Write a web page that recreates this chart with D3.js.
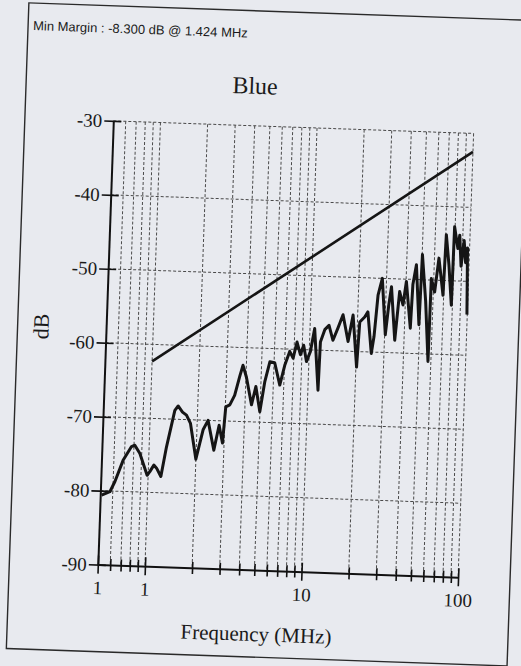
<!DOCTYPE html>
<html>

<head>
    <meta charset="utf-8">
    <title>Blue</title>
    <script type="text/javascript" src="https://cdn.jsdelivr.net/npm/d3@7/dist/d3.min.js"></script>
    <style>
        body { margin: 0; background: #e8eaef; }
    </style>
</head>

<body>
    <script type="text/javascript">
    var freqMHz = [0.51, 0.575, 0.616, 0.687, 0.772, 0.81, 0.876, 0.985, 1.023, 1.082,
        1.128, 1.206, 1.29, 1.432, 1.50, 1.604, 1.703, 1.814, 1.999, 2.19,
        2.345, 2.59, 2.765, 2.93, 3.02, 3.20, 3.42, 3.66, 3.81, 4.03,
        4.40, 4.65, 4.99, 5.29, 5.64, 6.06, 6.60, 7.03, 7.51, 7.92,
        8.32, 8.80, 9.19, 9.65, 10.18, 10.71, 11.6, 11.73, 12.43, 13.2,
        14.09, 15.08, 16.13, 17.6, 18.7, 20.2, 20.7, 22.2, 23.2, 24.9,
        25.7, 26.7, 28.2, 30.3, 31.4, 32.4, 34.9, 36.6, 38.7, 40.2,
        43.6, 44.3, 46.2, 49.4, 50.2, 53.9, 57.5, 57.9, 61.2, 64.1,
        69.3, 70.6, 74.5, 78.7, 79.4, 84.2, 86, 89, 92, 95, 97, 99.5];
    var levelDb = [-80.6, -80.1, -78.7, -75.8, -73.9, -73.7, -74.8, -77.7, -77.2, -76.3,
        -76.7, -77.8, -73.8, -68.8, -68.2, -69.0, -69.4, -70.5, -75.3, -71.3,
        -70.0, -74.0, -70.6, -73.0, -68.1, -67.8, -66.5, -63.8, -62.4, -64.0,
        -67.7, -65.2, -68.6, -64.5, -61.8, -61.9, -64.9, -62.2, -60.3, -61.2,
        -59.0, -60.7, -59.4, -61.6, -60.2, -57.1, -65.4, -58.9, -57.2, -56.6,
        -58.6, -56.9, -55.1, -58.7, -55.1, -62.1, -56.0, -55.3, -54.6, -60.2,
        -57.9, -52.3, -50.0, -57.6, -53.6, -51.1, -58.3, -51.7, -53.5, -50.3,
        -56.6, -50.7, -48.0, -56.1, -46.6, -52.9, -61.0, -49.8, -51.6, -47.0,
        -52.0, -43.8, -47.9, -53.3, -42.7, -45.6, -43.8, -48.0, -44.5, -47.5, -45.5, -54.5];

    /* limit line */
    var limitFreq = [1, 100];
    var limitDb = [-62.3, -32.5];

    /* axis ticks */
    var yTicks = [-30, -40, -50, -60, -70, -80, -90];
    var xGridTicks = [0.6, 0.7, 0.8, 0.9, 1, 2, 3, 4, 5, 6, 7, 8, 9, 10,
        20, 30, 40, 50, 60, 70, 80, 90, 100];
    var xLabelValues = [0.5, 1, 10, 100];
    var xLabelTexts = ['1', '1', '10', '100'];

    var svgWidth = 521;
    var svgHeight = 666;
    var plotLeft = 105.5, plotRight = 466, plotTop = 127, plotBottom = 571;
    var serif = "'Liberation Serif', 'Times New Roman', serif";

    var svg = d3.select('body').append('svg')
        .attr('width', svgWidth)
        .attr('height', svgHeight);

    svg.append('rect')
        .attr('width', svgWidth).attr('height', svgHeight)
        .attr('fill', '#e8eaef');

    // the scan is tilted by about 2 degrees
    var g = svg.append('g').attr('transform', 'rotate(2,285,348)');

    // page frame
    g.append('rect')
        .attr('x', 17).attr('y', 12)
        .attr('width', 501).attr('height', 646)
        .attr('fill', 'none')
        .attr('stroke', '#2a2a2a')
        .attr('stroke-width', 1.4);

    var x = d3.scaleLog().domain([0.5, 100]).range([plotLeft, plotRight]);
    var y = d3.scaleLinear().domain([-90, -30]).range([plotBottom, plotTop]);

    /* grid */
    g.append('g').selectAll('line')
        .data(xGridTicks)
        .enter().append('line')
        .attr('x1', function(d) { return x(d); })
        .attr('x2', function(d) { return x(d); })
        .attr('y1', plotTop)
        .attr('y2', plotBottom)
        .attr('stroke', '#4a4a4a')
        .attr('stroke-width', 1)
        .attr('stroke-dasharray', '3,2');

    g.append('g').selectAll('line')
        .data(yTicks.filter(function(d) { return d > -90; }))
        .enter().append('line')
        .attr('x1', plotLeft)
        .attr('x2', plotRight)
        .attr('y1', function(d) { return y(d); })
        .attr('y2', function(d) { return y(d); })
        .attr('stroke', '#4a4a4a')
        .attr('stroke-width', 1)
        .attr('stroke-dasharray', '3,2');

    /* y axis */
    var yAxis = g.append('g')
        .attr('transform', 'translate(' + plotLeft + ',0)')
        .call(d3.axisLeft(y).tickValues(yTicks).tickSizeOuter(0)
            .tickFormat(function(d) { return d; }));
    yAxis.select('.domain').attr('stroke', '#111').attr('stroke-width', 2);
    yAxis.selectAll('.tick line').attr('x1', 8).attr('x2', -9)
        .attr('stroke', '#111').attr('stroke-width', 1.6);
    yAxis.selectAll('.tick text').attr('x', -11)
        .attr('font-family', serif).attr('font-size', '19px').attr('fill', '#1a1a1a');

    /* x axis */
    var xAxis = g.append('g')
        .attr('transform', 'translate(0,' + plotBottom + ')')
        .call(d3.axisBottom(x).tickValues([0.5].concat(xGridTicks)).tickSizeOuter(0)
            .tickFormat(function(d) {
                var i = xLabelValues.indexOf(d);
                return i >= 0 ? xLabelTexts[i] : '';
            }));
    xAxis.select('.domain').attr('stroke', '#111').attr('stroke-width', 2);
    xAxis.selectAll('.tick line')
        .attr('y1', function(d) { return xLabelValues.indexOf(d) >= 0 ? -9 : -6; })
        .attr('y2', function(d) { return xLabelValues.indexOf(d) >= 0 ? 9 : 6; })
        .attr('stroke', '#111').attr('stroke-width', 1.6);
    xAxis.selectAll('.tick text').attr('y', 16)
        .attr('font-family', serif).attr('font-size', '19px').attr('fill', '#1a1a1a');

    /* lines */
    var line = d3.line()
        .x(function(d) { return x(d[0]); })
        .y(function(d) { return y(d[1]); });

    g.append('path')
        .datum(d3.zip(limitFreq, limitDb))
        .attr('d', line)
        .attr('fill', 'none')
        .attr('stroke', '#151515')
        .attr('stroke-width', 2.6);

    g.append('path')
        .datum(d3.zip(freqMHz, levelDb))
        .attr('d', line)
        .attr('fill', 'none')
        .attr('stroke', '#151515')
        .attr('stroke-width', 3)
        .attr('stroke-linejoin', 'round');

    /* texts */
    g.append('text')
        .attr('x', 22).attr('y', 39)
        .attr('font-family', "'Liberation Sans', Arial, sans-serif")
        .attr('font-size', '13px')
        .attr('fill', '#1a1a1a')
        .text('Min Margin : -8.300 dB @ 1.424 MHz');

    g.append('text')
        .attr('x', 246).attr('y', 95)
        .attr('text-anchor', 'middle')
        .attr('font-family', serif).attr('font-size', '24px').attr('fill', '#1a1a1a')
        .text('Blue');

    g.append('text')
        .attr('transform', 'translate(48,335) rotate(-90)')
        .attr('text-anchor', 'middle')
        .attr('font-family', serif).attr('font-size', '22px').attr('fill', '#1a1a1a')
        .text('dB');

    g.append('text')
        .attr('x', 266).attr('y', 642)
        .attr('text-anchor', 'middle')
        .attr('font-family', serif).attr('font-size', '21px').attr('fill', '#1a1a1a')
        .text('Frequency (MHz)');
    </script>
</body>

</html>
